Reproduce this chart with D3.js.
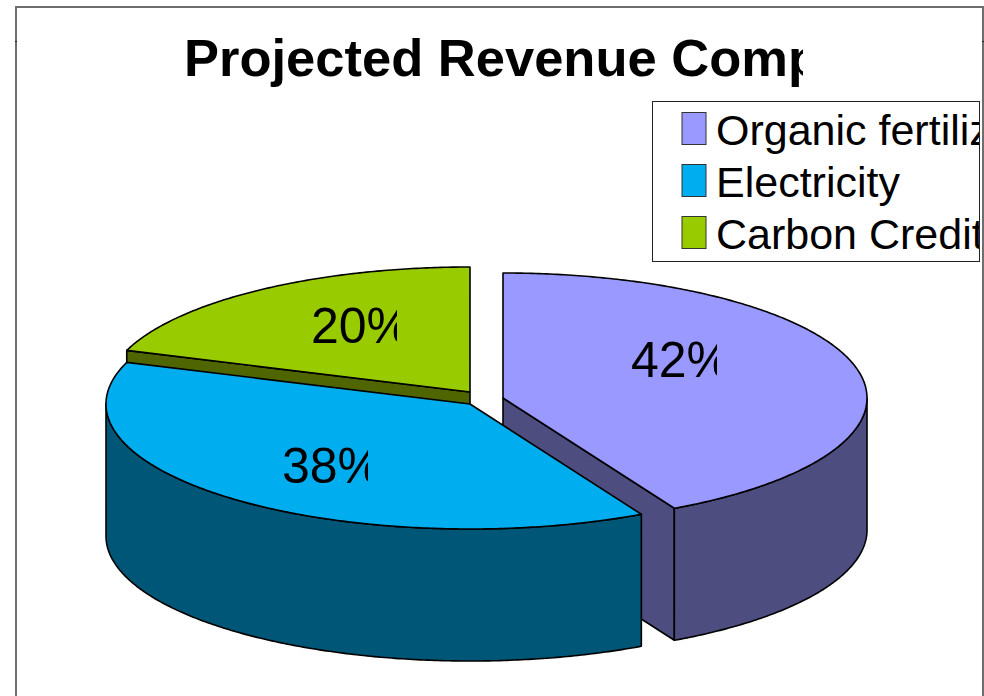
<!DOCTYPE html>
<html><head><meta charset="utf-8">
<style>html,body{margin:0;padding:0;background:#fff}svg{display:block}text{font-family:"Liberation Sans",Arial,sans-serif;fill:#000}</style>
<script src="https://cdn.jsdelivr.net/npm/d3@7"></script></head>
<body><svg id="c" width="984" height="696"></svg>
<script>
const titleText = "Projected Revenue Composition";
const categories = ["Organic fertilizer", "Electricity", "Carbon Credits"];
const shares = [42.2, 38.2, 19.6];
const labels = ["42%", "38%", "20%"];
const topColors = ["#9999FF", "#00ADEF", "#99CC00"];
const wallColors = ["#4D4D80", "#005677", "#4F6600"];

const svg = d3.select("#c");
const rx = 364, ry = 125, depth = 132;
const centers = [[503, 398], [470, 404], [470, 392]];
const labelPos = [[631, 377], [282, 482.5], [311, 343]];
const labelClipW = 88;

const pie = d3.pie().sort(null).value(d => d)(shares);
const defs = svg.append("defs");
function clip(id, x, y, w, h) {
  defs.append("clipPath").attr("id", id).append("rect").attr("x", x).attr("y", y).attr("width", w).attr("height", h);
  return `url(#${id})`;
}
const pt = (c, a, dz = 0) => [c[0] + rx * Math.sin(a), c[1] - ry * Math.cos(a) + dz];
const arcPts = (c, a0, a1, dz = 0) => {
  const n = Math.max(2, Math.ceil(Math.abs(a1 - a0) / 0.01));
  return d3.range(n + 1).map(i => pt(c, a0 + (a1 - a0) * i / n, dz));
};
const line = d3.line();
const poly = pts => line(pts) + "Z";
const face = (d, fill) => svg.append("path").attr("d", d).attr("fill", fill)
  .attr("stroke", "#000").attr("stroke-width", 1.6).attr("stroke-linejoin", "round");

// frame
svg.append("rect").attr("x", 16).attr("y", 7).attr("width", 967).attr("height", 720)
  .attr("fill", "#fff").attr("stroke", "#6e6e6e").attr("stroke-width", 2);
[15, 982].forEach(x => svg.append("line").attr("x1", x).attr("x2", x + 2)
  .attr("y1", 41.5).attr("y2", 41.5).attr("stroke", "#222").attr("stroke-width", 1));

// slices, back to front
const order = [0, 2, 1];
order.forEach(i => {
  const c = centers[i], s = pie[i];
  const a0 = s.startAngle, a1 = s.endAngle;
  if (i === 0) face(poly([c, pt(c, a1), pt(c, a1, depth), [c[0], c[1] + depth]]), wallColors[i]);
  if (i === 2) face(poly([c, pt(c, a0), pt(c, a0, depth), [c[0], c[1] + depth]]), wallColors[i]);
  const w0 = Math.max(a0, Math.PI / 2), w1 = Math.min(a1, 3 * Math.PI / 2);
  if (w1 > w0) face(poly(arcPts(c, w0, w1).concat(arcPts(c, w1, w0, depth))), wallColors[i]);
  face(poly([c].concat(arcPts(c, a0, a1))), topColors[i]);
});

// value labels
labels.forEach((t, i) => {
  svg.append("text").attr("x", labelPos[i][0]).attr("y", labelPos[i][1])
    .attr("font-size", 50).attr("clip-path", clip("lab" + i, labelPos[i][0] - 2, labelPos[i][1] - 50, labelClipW, 70)).text(t);
});

// title
svg.append("text").attr("x", 184).attr("y", 76).attr("font-size", 52.5).attr("font-weight", "bold")
  .attr("clip-path", clip("tc", 170, 20, 633, 70)).text(titleText);

// legend
const lg = svg.append("g");
lg.append("rect").attr("x", 652.5).attr("y", 101.5).attr("width", 327).attr("height", 160)
  .attr("fill", "#fff").attr("stroke", "#222").attr("stroke-width", 1);
const rowY = d3.scalePoint().domain(categories).range([112.5, 216.5]);
const lclip = clip("lc", 652, 100, 327, 162);
categories.forEach((t, i) => {
  lg.append("rect").attr("x", 682).attr("y", rowY(t)).attr("width", 24).attr("height", 32)
    .attr("fill", topColors[i]).attr("stroke", "#333").attr("stroke-width", 1);
  lg.append("text").attr("x", 716).attr("y", rowY(t) + 32.5).attr("font-size", 43)
    .attr("clip-path", lclip).text(t);
});
</script></body></html>
